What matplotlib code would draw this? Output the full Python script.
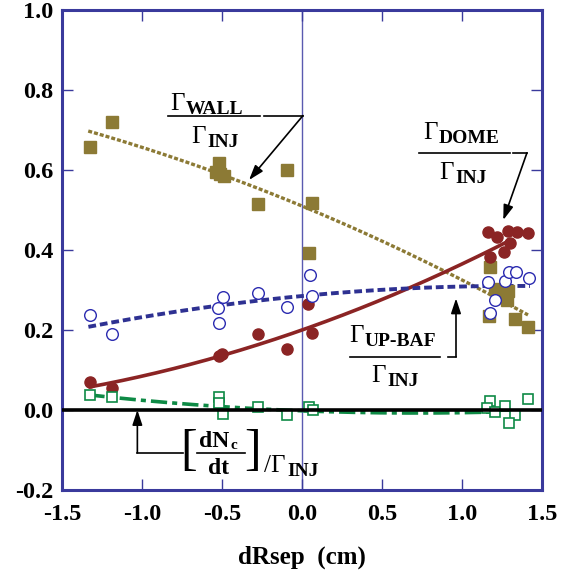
"""
Particle balance vs dRsep: wall, dome, upper baffle and net inventory change
"""

import matplotlib
matplotlib.use("Agg")
import matplotlib.pyplot as plt
import numpy as np
from matplotlib.transforms import offset_copy

plt.rcParams['font.family'] = ['Liberation Serif', 'DejaVu Serif']

wall_x = [-1.325, -1.19, -0.54, -0.517, -0.51, -0.49, -0.275, -0.096, 0.064, 0.046,
          1.175, 1.206, 1.29, 1.28, 1.26, 1.17, 1.33, 1.415]
wall_y = [0.657, 0.721, 0.596, 0.617, 0.59, 0.585, 0.514, 0.599, 0.518, 0.393,
          0.357, 0.302, 0.2975, 0.275, 0.282, 0.235, 0.2275, 0.207]

dome_x = [-1.325, -1.19, -0.517, -0.50, -0.275, -0.096, 0.04, 0.064,
          1.164, 1.217, 1.29, 1.342, 1.415, 1.30, 1.26, 1.175]
dome_y = [0.07, 0.056, 0.135, 0.139, 0.19, 0.153, 0.264, 0.193,
          0.446, 0.433, 0.4475, 0.446, 0.442, 0.417, 0.396, 0.383]

upbaf_x = [-1.325, -1.19, -0.517, -0.525, -0.496, -0.275, -0.096, 0.064, 0.05,
           1.164, 1.206, 1.175, 1.27, 1.296, 1.337, 1.42]
upbaf_y = [0.237, 0.191, 0.217, 0.254, 0.282, 0.292, 0.258, 0.286, 0.3375,
           0.321, 0.275, 0.243, 0.323, 0.346, 0.344, 0.329]

net_x = [-1.325, -1.19, -0.517, -0.52, -0.496, -0.273, -0.096, 0.046, 0.07,
         1.175, 1.154, 1.206, 1.27, 1.33, 1.296, 1.415]
net_y = [0.0375, 0.033, 0.032, 0.018, -0.01, 0.008, -0.0125, 0.007, 0.0,
         0.023, 0.004, -0.006, 0.01, -0.0125, -0.032, 0.027]

# fit curves (polynomial coefficients, highest power first) and their x range
wall_fit = [-0.0191, -0.1658, 0.51]
wall_range = [-1.336, 1.4125]
dome_fit = [0.0248, 0.1402, 0.20]
dome_range = [-1.335, 1.30]
upbaf_fit = [-0.01455, 0.0383, 0.285]
upbaf_range = [-1.335, 1.425]
net_fit = [0.0108, -0.0155, -0.002]
net_range = [-1.335, 1.20]

x_ticks = [-1.5, -1.0, -0.5, 0.0, 0.5, 1.0, 1.5]
y_ticks = [-0.2, 0.0, 0.2, 0.4, 0.6, 0.8, 1.0]

gold = '#8c7a35'
red = '#8b2424'
blue = '#2e3192'
green = '#0e8a45'
frame = '#3a3a9c'

fig = plt.figure(figsize=(5.71, 5.70), dpi=100)
ax = fig.add_axes([62 / 571, 80 / 570, 480 / 571, 480 / 570])


def curve(coef, rng):
    xs = np.linspace(rng[0], rng[1], 200)
    return xs, np.polyval(coef, xs)


# reference lines
ax.axvline(0, color='#5a5ab0', lw=1.0, zorder=1)
ax.axhline(0, color='black', lw=2.6, zorder=6)

# fits
xs, ys = curve(wall_fit, wall_range)
ax.plot(xs, ys, color=gold, lw=2.4, dashes=(1.2, 0.6), zorder=3)
xs, ys = curve(dome_fit, dome_range)
ax.plot(xs, ys, color=red, lw=2.6, solid_capstyle='butt', zorder=3)
xs, ys = curve(upbaf_fit, upbaf_range)
ax.plot(xs, ys, color=blue, lw=2.8, dashes=(2.0, 1.0), zorder=3)
xs, ys = curve(net_fit, net_range)
ax.plot(xs, ys, color=green, lw=2.6, dashes=(4.5, 1.4, 1.4, 1.4), zorder=3)

# data points
ax.plot(wall_x, wall_y, 's', color=gold, ms=8.2, mec=gold, zorder=4)
ax.plot(dome_x, dome_y, 'o', color=red, ms=8.0, mec=red, zorder=4)
ax.plot(upbaf_x, upbaf_y, 'o', mfc='white', mec='#2b2bb0', mew=1.0, ms=8.4, zorder=4)
ax.plot(net_x, net_y, 's', mfc='white', mec=green, mew=1.2, ms=7.6, zorder=5)

ax.set_xlim(-1.5, 1.5)
ax.set_ylim(-0.2, 1.0)
ax.set_xticks(x_ticks)
ax.set_xticklabels([f'{v:.1f}' for v in x_ticks])
ax.set_yticks(y_ticks)
ax.set_yticklabels([f'{v:.1f}' for v in y_ticks])
ax.tick_params(direction='in', length=8, width=1.0, color=frame,
               top=True, right=True, labelsize=17.5)
ax.tick_params(axis='x', pad=10)
ax.tick_params(axis='y', pad=6)
for lbl in ax.get_xticklabels() + ax.get_yticklabels():
    lbl.set_fontweight('bold')
for sp in ax.spines.values():
    sp.set_color(frame)
    sp.set_linewidth(2.2)

ax.set_xlabel('dRsep  (cm)', fontsize=18, fontweight='bold', labelpad=15)

# annotations
sub_shift = offset_copy(ax.transData, fig=fig, x=1, y=-4, units='dots')


def gamma(x, y, sub):
    ax.text(x, y, 'Γ', ha='right', va='baseline', fontsize=18)
    ax.text(x, y, sub, ha='left', va='baseline', fontsize=14,
            fontweight='bold', transform=sub_shift)


def leader(xs, ys):
    ax.plot(xs, ys, color='black', lw=1.2, clip_on=False, zorder=7)


def arrow(start, tip):
    ax.annotate('', xy=tip, xytext=start,
                arrowprops=dict(arrowstyle='-|>,head_length=0.9,head_width=0.3',
                                color='black', lw=1.2, shrinkA=0, shrinkB=0),
                zorder=7)


# wall
gamma(-0.731, 0.75, 'WALL')
gamma(-0.60, 0.667, 'INJ')
leader([-0.8375, -0.2625], [0.736, 0.736])
leader([-0.2375, 0.006], [0.736, 0.736])
arrow((0.006, 0.736), (-0.331, 0.575))

# dome
gamma(0.85, 0.677, 'DOME')
gamma(0.95, 0.577, 'INJ')
leader([0.733, 1.30], [0.643, 0.643])
leader([1.319, 1.406], [0.643, 0.643])
arrow((1.406, 0.643), (1.258, 0.475))

# upper baffle
gamma(0.3875, 0.171, 'UP-BAF')
gamma(0.525, 0.071, 'INJ')
leader([0.30, 0.8625], [0.133, 0.133])
leader([0.9125, 0.9625], [0.133, 0.133])
arrow((0.9625, 0.133), (0.9625, 0.279))

# net inventory change
leader([-0.742, -1.029], [-0.107, -0.107])
arrow((-1.029, -0.107), (-1.029, 0.0))
ax.text(-0.706, -0.104, '[', ha='center', va='center', fontsize=36)
ax.text(-0.306, -0.104, ']', ha='center', va='center', fontsize=36)
c_shift = offset_copy(ax.transData, fig=fig, x=1, y=-2, units='dots')
ax.text(-0.456, -0.092, 'dN', ha='right', va='baseline', fontsize=17, fontweight='bold')
ax.text(-0.456, -0.092, 'c', ha='left', va='baseline', fontsize=11,
        fontweight='bold', transform=c_shift)
leader([-0.656, -0.356], [-0.108, -0.108])
ax.text(-0.522, -0.16, 'dt', ha='center', va='baseline', fontsize=17, fontweight='bold')
ax.text(-0.10, -0.154, '/Γ', ha='right', va='baseline', fontsize=18)
ax.text(-0.10, -0.154, 'INJ', ha='left', va='baseline', fontsize=14,
        fontweight='bold', transform=sub_shift)

fig.savefig('out.png', dpi=100)
